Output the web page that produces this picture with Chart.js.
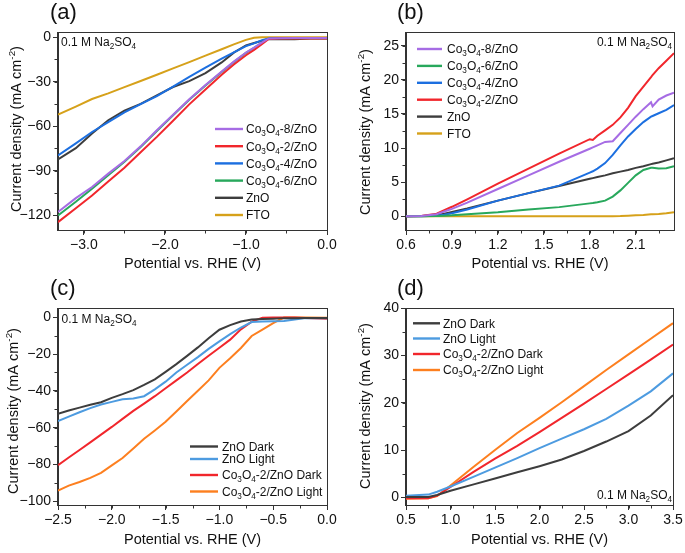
<!DOCTYPE html>
<html>
<head>
<meta charset="utf-8">
<script src="https://cdn.jsdelivr.net/npm/chart.js@4.4.1/dist/chart.umd.min.js"></script>
<style>
  html, body { margin: 0; padding: 0; background: #fff; }
  #wrap { position: relative; width: 685px; height: 553px; }
  canvas { position: absolute; }
</style>
</head>
<body>
<div id="wrap">
  <canvas id="pa" width="342" height="276" style="left:0;top:0"></canvas>
  <canvas id="pb" width="343" height="276" style="left:342px;top:0"></canvas>
  <canvas id="pc" width="342" height="277" style="left:0;top:276px"></canvas>
  <canvas id="pd" width="343" height="277" style="left:342px;top:276px"></canvas>
</div>
<script>
// ---- panel (a): LSV, cathodic ----
const aPotential = [-3.32, -3.1, -2.9, -2.7, -2.5, -2.3, -2.1, -1.9, -1.7, -1.5, -1.3, -1.15, -1.0, -0.9, -0.8, -0.72, -0.6, -0.4, -0.2, 0.0];
const aCo8 = [-117.9, -108.5, -101.0, -92.0, -83.5, -73.6, -62.8, -52.3, -41.9, -32.3, -23.1, -16.5, -10.3, -7.0, -3.5, -0.8, -0.7, -0.6, -0.6, -0.6];
const aCo2 = [-124.7, -115.3, -106.7, -97.3, -88.0, -77.6, -67.2, -56.3, -45.3, -35.3, -25.4, -18.4, -12.2, -8.6, -4.5, -1.2, -0.9, -0.9, -0.9, -0.9];
const aCo4 = [-79.7, -71.6, -63.9, -57.3, -50.7, -45.2, -39.7, -33.3, -26.7, -20.5, -14.5, -10.2, -6.0, -4.2, -2.0, -0.8, -0.6, -0.6, -0.6, -0.6];
const aCo6 = [-120.2, -111.0, -102.2, -93.0, -84.0, -74.0, -63.2, -52.6, -42.2, -32.6, -23.4, -16.8, -10.6, -7.2, -3.7, -0.9, -0.7, -0.7, -0.7, -0.7];
const aZnO = [-82.4, -74.8, -65.0, -56.0, -49.6, -45.0, -39.2, -33.6, -29.6, -24.2, -17.0, -10.4, -5.6, -3.9, -2.4, -1.3, -1.4, -1.4, -0.9, -0.8];
const aFTO = [-52.2, -46.8, -41.7, -37.9, -33.7, -29.5, -25.3, -21.0, -16.8, -12.4, -8.1, -4.8, -1.8, -0.4, 0.0, 0.0, -0.1, -0.1, -0.1, -0.1];
const aXTicks = [-3, -2, -1, 0];
const aYTicks = [0, -30, -60, -90, -120];

// ---- panel (b): LSV, anodic ----
const bPotential = [0.6, 0.7, 0.8, 0.85, 0.9, 1.0, 1.2, 1.4, 1.6, 1.8, 1.82, 1.85, 1.9, 1.95, 2.0, 2.05, 2.1, 2.15, 2.2, 2.21, 2.25, 2.3, 2.35];
const bCo8 = [0, 0.05, 0.3, 0.7, 1.1, 2.0, 4.0, 6.0, 8.0, 9.9, 10.1, 10.4, 10.9, 11.0, 12.2, 13.4, 14.6, 15.7, 16.7, 16.1, 17.1, 17.7, 18.1];
const bCo6 = [0, 0, 0.05, 0.1, 0.15, 0.3, 0.6, 1.0, 1.35, 1.9, 1.95, 2.05, 2.3, 2.9, 3.8, 4.9, 6.0, 6.8, 7.1, 7.1, 7.0, 7.05, 7.35];
const bCo4 = [0, 0, 0.1, 0.25, 0.45, 1.0, 2.3, 3.4, 4.5, 6.4, 6.6, 7.0, 7.8, 9.0, 10.4, 11.7, 12.8, 13.8, 14.6, 14.7, 15.1, 15.6, 16.3];
const bCo2 = [0, 0.05, 0.4, 0.9, 1.4, 2.5, 4.8, 7.0, 9.2, 11.3, 11.2, 11.8, 12.6, 13.4, 14.5, 15.9, 17.6, 19.0, 20.4, 20.7, 21.7, 22.8, 23.9];
const bZnO = [0, 0.05, 0.2, 0.4, 0.65, 1.15, 2.3, 3.4, 4.45, 5.5, 5.6, 5.75, 6.0, 6.3, 6.55, 6.8, 7.1, 7.35, 7.65, 7.7, 7.9, 8.2, 8.5];
const bFTO = [0, 0, 0, 0, 0, 0, 0, 0, 0, 0, 0, 0, 0, 0.03, 0.05, 0.1, 0.15, 0.2, 0.3, 0.3, 0.35, 0.45, 0.6];
const bXTicks = [0.6, 0.9, 1.2, 1.5, 1.8, 2.1];
const bYTicks = [0, 5, 10, 15, 20, 25];

// ---- panel (c): dark / light, cathodic ----
const cPotential = [-2.5, -2.4, -2.3, -2.2, -2.1, -2.0, -1.9, -1.8, -1.7, -1.6, -1.5, -1.4, -1.3, -1.2, -1.1, -1.0, -0.9, -0.8, -0.7, -0.6, -0.5, -0.4, -0.3, -0.2, 0.0];
const cZnODark = [-52.4, -50.7, -49.1, -47.6, -46.2, -43.8, -41.8, -39.6, -36.8, -33.8, -29.7, -25.5, -21.0, -16.4, -11.4, -6.8, -4.3, -2.3, -1.3, -1.0, -0.8, -0.5, -0.5, -0.4, -0.4];
const cZnOLight = [-56.4, -54.0, -51.6, -49.4, -47.4, -46.0, -44.6, -44.2, -42.9, -39.2, -35.0, -30.0, -25.8, -21.7, -17.2, -13.1, -9.2, -5.6, -2.6, -2.3, -2.2, -2.1, -1.3, -0.5, -0.5];
const cCoDark = [-80.4, -76.2, -72.1, -68.0, -63.8, -59.6, -55.2, -50.9, -46.9, -42.9, -38.6, -34.3, -30.0, -25.4, -20.9, -16.6, -12.2, -6.6, -2.4, -0.3, -0.2, -0.2, -0.2, -0.4, -0.8];
const cCoLight = [-94.2, -91.5, -89.5, -87.3, -84.5, -80.5, -76.5, -71.3, -66.0, -61.5, -56.8, -51.2, -45.5, -40.0, -34.3, -27.5, -22.3, -16.7, -10.2, -6.7, -3.2, -0.2, -0.2, -0.2, -0.3];
const cXTicks = [-2.5, -2, -1.5, -1, -0.5, 0];
const cYTicks = [0, -20, -40, -60, -80, -100];

// ---- panel (d): dark / light, anodic ----
const dPotential = [0.5, 0.75, 0.85, 1.0, 1.25, 1.5, 1.75, 2.0, 2.25, 2.5, 2.75, 3.0, 3.25, 3.5];
const dZnODark = [0.1, 0.1, 0.5, 1.4, 2.7, 4.0, 5.3, 6.6, 8.0, 9.8, 11.8, 14.0, 17.3, 21.6];
const dZnOLight = [0.35, 0.6, 1.2, 2.3, 4.3, 6.3, 8.3, 10.4, 12.4, 14.4, 16.6, 19.4, 22.4, 26.2];
const dCoDark = [-0.2, -0.2, 0.4, 2.2, 5.3, 8.2, 10.9, 13.8, 16.8, 19.8, 22.9, 26.0, 29.1, 32.3];
const dCoLight = [-0.3, -0.2, 0.3, 2.5, 6.3, 10.0, 13.6, 16.8, 20.1, 23.5, 26.9, 30.2, 33.5, 36.8];
const dXTicks = [0.5, 1, 1.5, 2, 2.5, 3, 3.5];
const dYTicks = [0, 10, 20, 30, 40];

const FONT = '"Liberation Sans", Arial, Helvetica, sans-serif';
const AXIS = '#333';
const TXT = '#111';
const PURPLE = '#a66ce4', RED = '#f1262c', BLUE = '#1c6fe0', GREEN = '#28a85c';
const DARK = '#3d3d3d', GOLD = '#d6a11a', LBLUE = '#4d9be0', ORANGE = '#fd7f1f';

Chart.defaults.font.family = FONT;
Chart.defaults.color = TXT;

function fmt(v, dec) {
  const s = Math.abs(v).toFixed(dec);
  return (v < -1e-9 ? '\u2212' : '') + s;
}

// "Co_{3}O_{4}" -> subscript, "cm^{-2}" -> superscript
function richParts(str) {
  const parts = [];
  const re = /([_^])\{([^}]*)\}/g;
  let last = 0, m;
  while ((m = re.exec(str))) {
    if (m.index > last) parts.push({ t: str.slice(last, m.index), k: '' });
    parts.push({ t: m[2], k: m[1] });
    last = re.lastIndex;
  }
  if (last < str.length) parts.push({ t: str.slice(last), k: '' });
  return parts;
}

function drawRich(ctx, str, x, y, size, align) {
  const parts = richParts(str);
  const small = size * 0.68;
  let w = 0;
  parts.forEach(p => {
    ctx.font = (p.k ? small : size) + 'px ' + FONT;
    p.w = ctx.measureText(p.t).width;
    w += p.w;
  });
  let cx = align === 'right' ? x - w : align === 'center' ? x - w / 2 : x;
  ctx.textAlign = 'left';
  ctx.textBaseline = 'alphabetic';
  parts.forEach(p => {
    ctx.font = (p.k ? small : size) + 'px ' + FONT;
    const dy = p.k === '_' ? size * 0.25 : p.k === '^' ? -size * 0.38 : 0;
    ctx.fillText(p.t, cx, y + dy);
    cx += p.w;
  });
}

function minorTicks(ctx, sc, step, horizontal, a) {
  const len = 3;
  for (let k = Math.ceil(sc.min / step - 1e-6); k * step <= sc.max + 1e-9; k++) {
    const p = Math.round(sc.getPixelForValue(k * step)) + 0.5;
    ctx.beginPath();
    if (horizontal) {
      const y = Math.round(a.bottom) + 0.5;
      ctx.moveTo(p, y); ctx.lineTo(p, y + len);
    } else {
      const x = Math.round(a.left) - 0.5;
      ctx.moveTo(x, p); ctx.lineTo(x - len, p);
    }
    ctx.stroke();
  }
}

const decor = {
  id: 'panelDecor',
  afterDraw(chart, args, o) {
    const ctx = chart.ctx, a = chart.chartArea;
    ctx.save();
    ctx.strokeStyle = AXIS;
    ctx.lineWidth = 1;
    ctx.strokeRect(Math.round(a.left) - 0.5, Math.round(a.top) + 0.5,
      Math.round(a.right) - Math.round(a.left) + 1, Math.round(a.bottom) - Math.round(a.top));
    minorTicks(ctx, chart.scales.x, o.xMinor, true, a);
    minorTicks(ctx, chart.scales.y, o.yMinor, false, a);

    // legend
    const lg = o.legend;
    chart.data.datasets.forEach((ds, i) => {
      const y = lg.rows[i];
      ctx.strokeStyle = ds.borderColor;
      ctx.lineWidth = 2.4;
      ctx.beginPath();
      ctx.moveTo(lg.x0, y); ctx.lineTo(lg.x1, y);
      ctx.stroke();
      ctx.fillStyle = TXT;
      drawRich(ctx, ds.label, lg.tx, y + 4.3, 12, 'left');
    });

    // electrolyte note
    ctx.fillStyle = TXT;
    drawRich(ctx, '0.1 M Na_{2}SO_{4}', o.note.x, o.note.y, 12, o.note.align);

    // panel letter
    ctx.font = '22px ' + FONT;
    ctx.textAlign = 'left';
    ctx.textBaseline = 'alphabetic';
    ctx.fillText(o.letter, o.letterX, 18.5);

    // y axis title
    ctx.translate(o.yTitleX, o.yTitleY);
    ctx.rotate(-Math.PI / 2);
    drawRich(ctx, 'Current density (mA cm^{-2})', 0, 5, 14.5, 'center');
    ctx.restore();
  }
};

function axis(range, ticks, dec, horizontal, size, titlePad) {
  return {
    type: 'linear',
    position: horizontal ? 'bottom' : 'left',
    min: range[0],
    max: range[1],
    afterBuildTicks: sc => { sc.ticks = ticks.map(v => ({ value: v })); },
    afterFit: sc => { if (horizontal) sc.height = size; else sc.width = size; },
    grid: { display: true, drawOnChartArea: false, drawTicks: true, tickLength: 5, color: AXIS, lineWidth: 1 },
    border: { display: true, color: AXIS, width: 1 },
    ticks: {
      autoSkip: false, maxRotation: 0, minRotation: 0, padding: 2, color: TXT,
      font: { size: 14 },
      callback: v => fmt(v, dec)
    },
    title: horizontal
      ? { display: true, text: 'Potential vs. RHE (V)', color: TXT, font: { size: 14.5 }, padding: { top: 0, bottom: titlePad } }
      : { display: false }
  };
}

function makePanel(id, p) {
  const canvas = document.getElementById(id);
  const W = canvas.width, H = canvas.height;
  return new Chart(canvas, {
    type: 'line',
    data: {
      datasets: p.series.map(s => ({
        label: s.label,
        data: p.xs.map((x, i) => ({ x: x, y: s.values[i] })),
        borderColor: s.color,
        backgroundColor: s.color,
        borderWidth: 2,
        pointRadius: 0,
        tension: 0,
        fill: false
      }))
    },
    options: {
      responsive: false,
      animation: false,
      events: [],
      layout: { padding: { top: p.area.top, right: W - p.area.right, left: 0, bottom: 0 } },
      plugins: {
        legend: { display: false },
        tooltip: { enabled: false },
        panelDecor: p.decor
      },
      scales: {
        x: axis(p.xRange, p.xTicks, p.xDec, true, H - p.area.bottom, p.titlePad),
        y: axis(p.yRange, p.yTicks, 0, false, p.area.left)
      }
    },
    plugins: [decor]
  });
}

makePanel('pa', {
  xs: aPotential,
  series: [
    { label: 'Co_{3}O_{4}-8/ZnO', values: aCo8, color: PURPLE },
    { label: 'Co_{3}O_{4}-2/ZnO', values: aCo2, color: RED },
    { label: 'Co_{3}O_{4}-4/ZnO', values: aCo4, color: BLUE },
    { label: 'Co_{3}O_{4}-6/ZnO', values: aCo6, color: GREEN },
    { label: 'ZnO', values: aZnO, color: DARK },
    { label: 'FTO', values: aFTO, color: GOLD }
  ],
  area: { left: 58, right: 327, top: 32, bottom: 230 },
  xRange: [-3.32, 0], yRange: [-130, 3.5], xTicks: aXTicks, yTicks: aYTicks, xDec: 1, titlePad: 3,
  decor: {
    xMinor: 0.5, yMinor: 15,
    legend: { x0: 215, x1: 243, tx: 246, rows: [129, 146.2, 163.4, 180.6, 197.8, 215] },
    note: { x: 61, y: 46, align: 'left' },
    letter: '(a)', letterX: 50, yTitleX: 16, yTitleY: 129
  }
});

makePanel('pb', {
  xs: bPotential,
  series: [
    { label: 'Co_{3}O_{4}-8/ZnO', values: bCo8, color: PURPLE },
    { label: 'Co_{3}O_{4}-6/ZnO', values: bCo6, color: GREEN },
    { label: 'Co_{3}O_{4}-4/ZnO', values: bCo4, color: BLUE },
    { label: 'Co_{3}O_{4}-2/ZnO', values: bCo2, color: RED },
    { label: 'ZnO', values: bZnO, color: DARK },
    { label: 'FTO', values: bFTO, color: GOLD }
  ],
  area: { left: 64, right: 332, top: 32, bottom: 230 },
  xRange: [0.6, 2.35], yRange: [-2, 27], xTicks: bXTicks, yTicks: bYTicks, xDec: 1, titlePad: 3,
  decor: {
    xMinor: 0.15, yMinor: 2.5,
    legend: { x0: 75, x1: 100, tx: 105, rows: [49, 65.9, 82.8, 99.7, 116.6, 133.5] },
    note: { x: 330, y: 46, align: 'right' },
    letter: '(b)', letterX: 55, yTitleX: 23, yTitleY: 132
  }
});

makePanel('pc', {
  xs: cPotential,
  series: [
    { label: 'ZnO Dark', values: cZnODark, color: DARK },
    { label: 'ZnO Light', values: cZnOLight, color: LBLUE },
    { label: 'Co_{3}O_{4}-2/ZnO Dark', values: cCoDark, color: RED },
    { label: 'Co_{3}O_{4}-2/ZnO Light', values: cCoLight, color: ORANGE }
  ],
  area: { left: 58, right: 327, top: 32, bottom: 229 },
  xRange: [-2.5, 0], yRange: [-102, 5], xTicks: cXTicks, yTicks: cYTicks, xDec: 1, titlePad: 4,
  decor: {
    xMinor: 0.25, yMinor: 10,
    legend: { x0: 190, x1: 218, tx: 222, rows: [170.5, 183, 199, 215.5] },
    note: { x: 61.5, y: 46.5, align: 'left' },
    letter: '(c)', letterX: 50, yTitleX: 12.5, yTitleY: 135
  }
});

makePanel('pd', {
  xs: dPotential,
  series: [
    { label: 'ZnO Dark', values: dZnODark, color: DARK },
    { label: 'ZnO Light', values: dZnOLight, color: LBLUE },
    { label: 'Co_{3}O_{4}-2/ZnO Dark', values: dCoDark, color: RED },
    { label: 'Co_{3}O_{4}-2/ZnO Light', values: dCoLight, color: ORANGE }
  ],
  area: { left: 64, right: 331, top: 32, bottom: 229 },
  xRange: [0.5, 3.5], yRange: [-1.6, 40], xTicks: dXTicks, yTicks: dYTicks, xDec: 1, titlePad: 4,
  decor: {
    xMinor: 0.25, yMinor: 5,
    legend: { x0: 71, x1: 98, tx: 101, rows: [47.3, 62.5, 78, 94] },
    note: { x: 330, y: 223, align: 'right' },
    letter: '(d)', letterX: 55, yTitleX: 23, yTitleY: 130
  }
});
</script>
</body>
</html>
